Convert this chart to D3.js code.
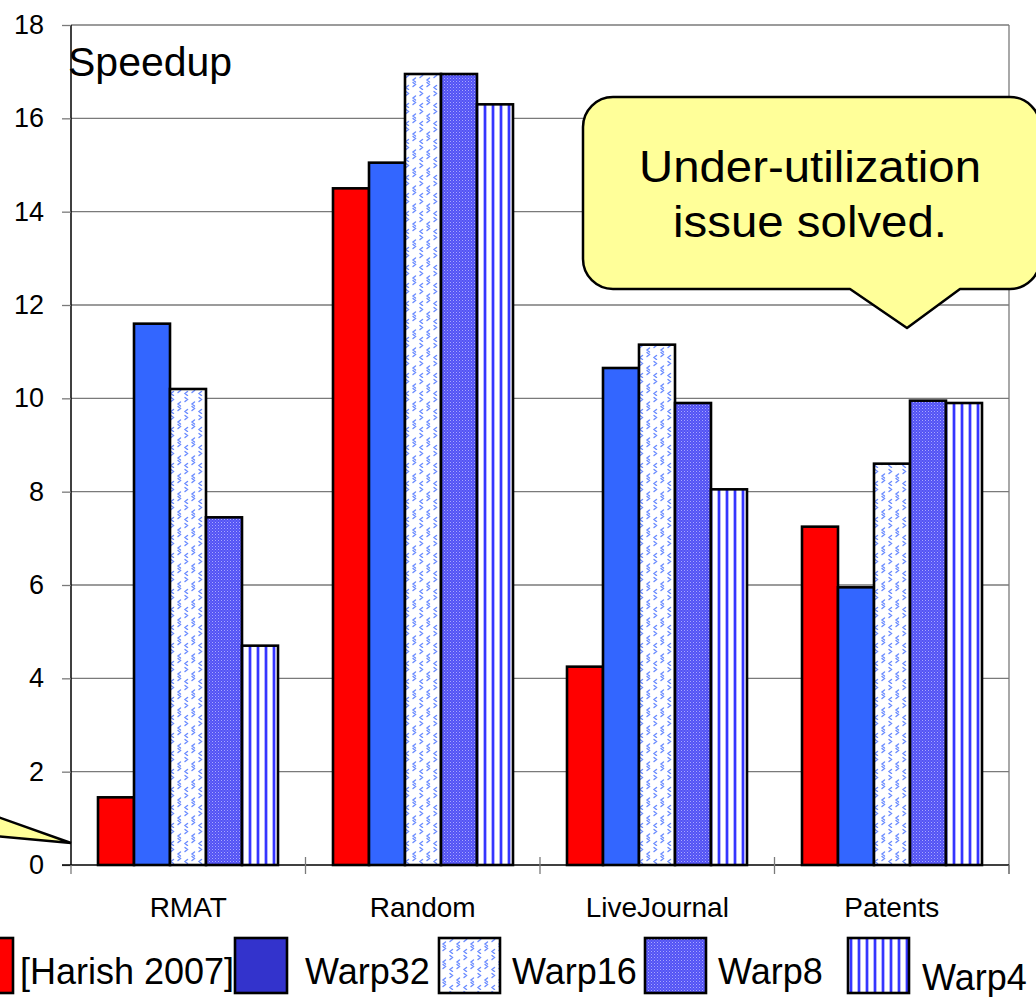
<!DOCTYPE html>
<html>
<head>
<meta charset="utf-8">
<script src="https://cdn.jsdelivr.net/npm/d3@7/dist/d3.min.js"></script>
<style>
  html, body { margin: 0; padding: 0; background: #fff; }
  svg { display: block; font-family: "Liberation Sans", Arial, Helvetica, sans-serif; }
</style>
</head>
<body>
<svg id="chart" width="1036" height="997"></svg>
<script>
// Speedup of BFS variants per graph
const categories = ["RMAT", "Random", "LiveJournal", "Patents"];
const seriesNames = ["[Harish 2007]", "Warp32", "Warp16", "Warp8", "Warp4"];
const harish = [1.45, 14.5, 4.25, 7.25];
const warp32 = [11.6, 15.05, 10.65, 5.95];
const warp16 = [10.2, 16.95, 11.15, 8.6];
const warp8  = [7.45, 16.95, 9.9, 9.95];
const warp4  = [4.7, 16.3, 8.05, 9.9];
const yTicks = [0, 2, 4, 6, 8, 10, 12, 14, 16, 18];
const calloutLines = ["Under-utilization", "issue solved."];

const seriesValues = [harish, warp32, warp16, warp8, warp4];

const svg = d3.select("#chart");
const plot = { left: 71, right: 1009, top: 25, bottom: 865 };

const defs = svg.append("defs");

// Warp16: light blue chevrons on white
const p16 = defs.append("pattern").attr("id", "pat16")
  .attr("patternUnits", "userSpaceOnUse").attr("width", 14).attr("height", 18);
p16.append("rect").attr("width", 14).attr("height", 18).attr("fill", "#fff");
["M2,1.5 L4.5,3.5 L2,5.5", "M11.5,6 L9,8 L11.5,10", "M9,10.5 L11.5,12.5 L9,14.5", "M4.5,13.5 L2,15.5 L4.5,17.5"]
  .forEach(d => p16.append("path").attr("d", d).attr("fill", "none")
    .attr("stroke", "#6b8cff").attr("stroke-width", 1.4).attr("stroke-linecap", "round"));

// Warp8: fine blue mesh
const p8 = defs.append("pattern").attr("id", "pat8")
  .attr("patternUnits", "userSpaceOnUse").attr("width", 3).attr("height", 3);
p8.append("rect").attr("width", 3).attr("height", 3).attr("fill", "#5252f4");
p8.append("rect").attr("width", 1).attr("height", 1).attr("fill", "#a8a8ff");
p8.append("rect").attr("x", 1.5).attr("y", 1.5).attr("width", 1).attr("height", 1).attr("fill", "#8585ff");

// Warp4: vertical blue stripes
const p4 = defs.append("pattern").attr("id", "pat4")
  .attr("patternUnits", "userSpaceOnUse").attr("width", 8).attr("height", 8);
p4.append("rect").attr("width", 8).attr("height", 8).attr("fill", "#fff");
p4.append("rect").attr("x", 2).attr("width", 2).attr("height", 8).attr("fill", "#3535ff");
p4.append("rect").attr("x", 1).attr("width", 1).attr("height", 8).attr("fill", "#b5b5ff");
p4.append("rect").attr("x", 4).attr("width", 1).attr("height", 8).attr("fill", "#b5b5ff");

const barFills = ["#ff0000", "#3366ff", "url(#pat16)", "url(#pat8)", "url(#pat4)"];
const legendFills = ["#ff0000", "#3333cc", "url(#pat16)", "url(#pat8)", "url(#pat4)"];

// Scales
const x0 = d3.scaleBand().domain(categories).range([plot.left, plot.right]).padding(0);
const x1 = d3.scaleBand().domain(seriesNames).range([0, x0.bandwidth()])
  .paddingInner(0).paddingOuter(0.739).round(true);
const y = d3.scaleLinear().domain([0, 18]).range([plot.bottom, plot.top]);

// Gridlines
svg.append("g").selectAll("line").data(yTicks.filter(t => t > 0)).join("line")
  .attr("x1", plot.left).attr("x2", plot.right)
  .attr("y1", d => y(d)).attr("y2", d => y(d))
  .attr("stroke", "#7a7a7a").attr("stroke-width", 1.3);
// right border
svg.append("line").attr("x1", plot.right).attr("x2", plot.right)
  .attr("y1", plot.top).attr("y2", plot.bottom + 9)
  .attr("stroke", "#7a7a7a").attr("stroke-width", 1.3);

// Bars (groups snapped to whole pixels so the fill patterns stay crisp)
const rows = categories.map((c, i) => ({ c, vals: seriesNames.map((s, j) => ({ s, j, v: seriesValues[j][i] })) }));
const groups = svg.append("g").selectAll("g").data(rows).join("g")
  .attr("transform", d => `translate(${Math.round(x0(d.c))},0)`);
groups.selectAll("rect").data(d => d.vals).join("rect")
  .attr("x", d => x1(d.s)).attr("width", x1.bandwidth())
  .attr("y", d => y(d.v)).attr("height", d => y(0) - y(d.v))
  .attr("fill", d => barFills[d.j])
  .attr("stroke", "#000").attr("stroke-width", 2.6);

// Y axis
const yAxis = d3.axisLeft(y).tickValues(yTicks).tickSize(9).tickPadding(18).tickFormat(d3.format("d"));
const gy = svg.append("g").attr("transform", `translate(${plot.left},0)`).call(yAxis);
gy.select(".domain").attr("stroke", "#000").attr("stroke-width", 1.5).attr("d", `M0,${plot.top}V${plot.bottom}`);
gy.selectAll(".tick line").attr("stroke", "#7a7a7a").attr("stroke-width", 1.3);
gy.selectAll(".tick text").attr("font-size", 27).attr("fill", "#000")
  .attr("font-family", "'Liberation Sans', Arial, sans-serif");

// X axis
const xAxis = d3.axisBottom(x0).tickSize(0).tickPadding(0);
const gx = svg.append("g").attr("transform", `translate(0,${plot.bottom})`).call(xAxis);
gx.select(".domain").attr("stroke", "#000").attr("stroke-width", 1.5).attr("d", `M${plot.left - 9},0H${plot.right}`);
gx.selectAll(".tick text").attr("font-size", 28).attr("fill", "#000").attr("dy", null)
  .attr("y", 52).attr("font-family", "'Liberation Sans', Arial, sans-serif");
// category separators
svg.append("g").selectAll("line").data(categories.map(c => x0(c)).concat([plot.right])).join("line")
  .attr("x1", d => d).attr("x2", d => d)
  .attr("y1", (d, i) => (i === 0 || i === categories.length) ? plot.bottom : plot.bottom - 8)
  .attr("y2", plot.bottom + 9)
  .attr("stroke", "#7a7a7a").attr("stroke-width", 1.3);

// Axis title
svg.append("text").attr("x", 68).attr("y", 76).attr("font-size", 41).text("Speedup");

// Callout over the Patents group
const cx0 = 583, cy0 = 97, cx1 = 1040, cy1 = 289, r = 30;
const calloutPath = `M${cx0 + r},${cy0} H${cx1 - r} A${r},${r} 0 0 1 ${cx1},${cy0 + r} V${cy1 - r} A${r},${r} 0 0 1 ${cx1 - r},${cy1}` +
  ` H960 L907,328 L850,${cy1} H${cx0 + r} A${r},${r} 0 0 1 ${cx0},${cy1 - r} V${cy0 + r} A${r},${r} 0 0 1 ${cx0 + r},${cy0} Z`;
svg.append("path").attr("d", calloutPath).attr("fill", "#ffff99")
  .attr("stroke", "#000").attr("stroke-width", 2.5).attr("stroke-linejoin", "round");
svg.append("g").selectAll("text").data(calloutLines).join("text")
  .attr("x", 810).attr("y", (d, i) => 182 + i * 55)
  .attr("text-anchor", "middle").attr("font-size", 44)
  .attr("textLength", (d, i) => i === 0 ? 342 : 274).attr("lengthAdjust", "spacingAndGlyphs")
  .text(d => d);

// Tail of a callout coming in from the left
svg.append("path").attr("d", `M-5,816 L${plot.left},843 L-5,836 Z`)
  .attr("fill", "#ffff99").attr("stroke", "#000").attr("stroke-width", 2.5).attr("stroke-linejoin", "miter");

// Legend
const legendSwatchX = [-48, 235, 439, 645, 848];
const legendTextX = [20, 305, 512, 718, 922];
const legendBaseline = [984, 984, 984, 984, 990];
const lg = svg.append("g");
seriesNames.forEach((name, j) => {
  lg.append("rect").attr("x", legendSwatchX[j]).attr("y", 938)
    .attr("width", j === 1 ? 52 : 61).attr("height", 55)
    .attr("fill", legendFills[j]).attr("stroke", "#000").attr("stroke-width", 2.6);
  lg.append("text").attr("x", legendTextX[j]).attr("y", legendBaseline[j])
    .attr("font-size", 36).text(name);
});
</script>
</body>
</html>
